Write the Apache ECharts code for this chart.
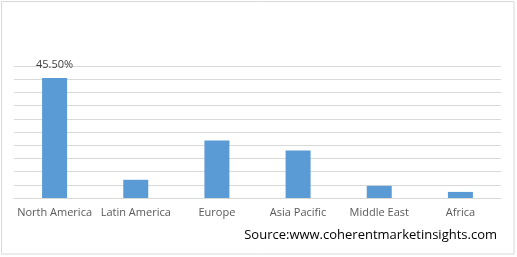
<!DOCTYPE html>
<html><head><meta charset="utf-8">
<script src="https://cdn.jsdelivr.net/npm/echarts@6/dist/echarts.min.js"></script>
<style>html,body{margin:0;padding:0;background:#fff}#c{width:517px;height:257px}</style>
</head><body><div id="c"></div>
<script>
var categories = ['North America','Latin America','Europe','Asia Pacific','Middle East','Africa'];
var shares = [45.5, 6.9, 21.8, 18.0, 4.6, 2.3];
var labelText = ['45.50%','','','','',''];
var yMax = 50, yStep = 5;
var sourceText = 'Source:www.coherentmarketinsights.com';

var chart = echarts.init(document.getElementById('c'), null, {renderer:'canvas'});
chart.setOption({
  animation:false,
  backgroundColor:'#fff',
  grid:{left:14, right:16, top:66, bottom:59, containLabel:false},
  xAxis:{type:'category', data:categories,
    axisLine:{lineStyle:{color:'#d9d9d9', width:1}}, axisTick:{show:false},
    axisLabel:{color:'#595959', fontSize:11, fontFamily:'Open Sans', margin:9, interval:0}},
  yAxis:{type:'value', min:0, max:yMax, interval:yStep,
    axisLabel:{show:false}, axisLine:{show:false}, axisTick:{show:false},
    splitLine:{lineStyle:{color:'#d9d9d9', width:1}}},
  series:[{type:'bar', data:shares, barWidth:25,
    itemStyle:{color:'#5b9bd5'},
    label:{show:true, position:'top', distance:8, color:'#404040', fontSize:11, fontFamily:'Open Sans',
      formatter:function(p){return labelText[p.dataIndex];}}}],
  graphic:[
    {type:'rect', shape:{x:1.5, y:1.5, width:512.5, height:252.5}, style:{fill:null, stroke:'#d9d9d9', lineWidth:1}, silent:true},
    {type:'text', right:20, top:229, style:{text:sourceText, fill:'#000', fontSize:13, fontFamily:'Open Sans'}}
  ]
});
</script></body></html>
